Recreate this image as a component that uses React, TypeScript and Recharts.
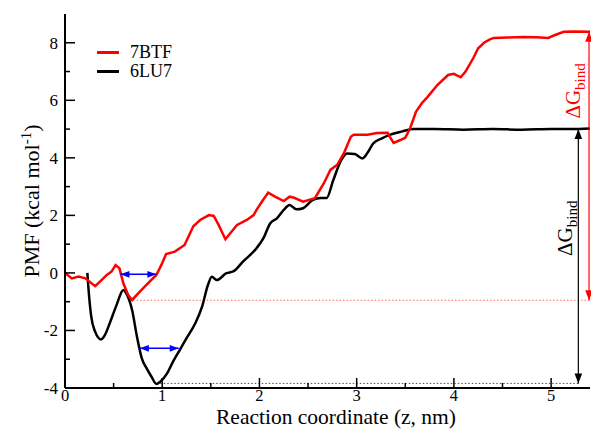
import React from "react";
import { LineChart, Line, XAxis, YAxis, ReferenceLine, Legend } from "recharts";

// 7BTF (red) PMF profile
const zRed = [
  0, 0.07, 0.14, 0.21, 0.31, 0.36, 0.43, 0.48, 0.52, 0.56, 0.6, 0.65, 0.69, 0.77, 0.86, 0.94, 0.99,
  1.04, 1.13, 1.23, 1.32, 1.39, 1.48, 1.53, 1.58, 1.65, 1.7, 1.77, 1.87, 1.94, 1.97, 2.03, 2.09,
  2.16, 2.25, 2.31, 2.35, 2.45, 2.57, 2.66, 2.73, 2.8, 2.87, 2.94, 2.97, 3.11, 3.21, 3.32, 3.34,
  3.38, 3.45, 3.5, 3.55, 3.61, 3.67, 3.73, 3.83, 3.94, 4.0, 4.07, 4.12, 4.2, 4.25, 4.31, 4.37, 4.41,
  4.55, 4.72, 4.85, 4.97, 5.04, 5.13, 5.25, 5.4,
];
const pmfRed = [
  0, -0.19, -0.13, -0.19, -0.46, -0.3, -0.07, 0.05, 0.27, 0.16, -0.36, -0.77, -0.94, -0.65, -0.34,
  -0.07, 0.27, 0.66, 0.74, 0.97, 1.62, 1.84, 2.01, 1.98, 1.67, 1.17, 1.38, 1.67, 1.84, 2.01, 2.19,
  2.5, 2.79, 2.65, 2.5, 2.65, 2.62, 2.48, 2.6, 3.1, 3.58, 3.76, 4.17, 4.73, 4.8, 4.8, 4.86, 4.87,
  4.74, 4.52, 4.62, 4.7, 5.03, 5.6, 5.9, 6.12, 6.53, 6.88, 6.92, 6.8, 7.0, 7.47, 7.81, 8.0, 8.12,
  8.17, 8.18, 8.2, 8.19, 8.17, 8.27, 8.38, 8.39, 8.38,
];

// 6LU7 (black) PMF profile
const zBlack = [
  0.23, 0.24, 0.27, 0.31, 0.37, 0.41, 0.46, 0.53, 0.6, 0.63, 0.69, 0.74, 0.79, 0.84, 0.89, 0.94,
  0.98, 1.05, 1.11, 1.18, 1.25, 1.34, 1.41, 1.47, 1.51, 1.56, 1.66, 1.73, 1.83, 1.97, 2.04, 2.11,
  2.18, 2.25, 2.31, 2.38, 2.45, 2.55, 2.63, 2.69, 2.76, 2.84, 2.9, 2.98, 3.06, 3.12, 3.17, 3.26,
  3.34, 3.47, 3.58, 3.8, 4.1, 4.4, 4.7, 5.0, 5.2, 5.4,
];
const pmfBlack = [
  0, -0.48, -1.52, -2.04, -2.31, -2.16, -1.75, -1.12, -0.59, -0.71, -1.29, -2.21, -2.97, -3.32,
  -3.61, -3.86, -3.78, -3.49, -3.09, -2.68, -2.27, -1.75, -1.17, -0.42, -0.13, -0.25, -0.01, 0.05,
  0.39, 0.86, 1.2, 1.72, 1.9, 2.19, 2.36, 2.21, 2.25, 2.54, 2.6, 2.6, 3.23, 3.91, 4.15, 4.13, 3.98,
  4.22, 4.5, 4.68, 4.8, 4.92, 5.0, 5.0, 4.98, 5.0, 4.98, 5.0, 5.0, 5.02,
];

const seriesNames = ["7BTF", "6LU7"];
const seriesColors = ["#ff0000", "#000000"];

const xTicks = [0, 0.5, 1, 1.5, 2, 2.5, 3, 3.5, 4, 4.5, 5];
const yTicks = [-4, -3, -2, -1, 0, 1, 2, 3, 4, 5, 6, 7, 8];

// annotations, in data coordinates
const redFloor = [{ x: 0.7, y: -0.95 }, { x: 5.4, y: -0.95 }];
const blackFloor = [{ x: 0.98, y: -3.84 }, { x: 5.28, y: -3.84 }];
const redBind = [{ x: 5.39, y: 8.38 }, { x: 5.39, y: -0.95 }];
const blackBind = [{ x: 5.28, y: 5.0 }, { x: 5.28, y: -3.84 }];
const blueTop = [{ x: 0.57, y: -0.05 }, { x: 0.94, y: -0.05 }];
const blueLow = [{ x: 0.77, y: -2.62 }, { x: 1.17, y: -2.62 }];

const redData = zRed.map((z, i) => ({ z, pmf: pmfRed[i] }));
const blackData = zBlack.map((z, i) => ({ z, pmf: pmfBlack[i] }));

const FONT = '"Liberation Serif", "Times New Roman", serif';
const isMajorX = (v: number) => Math.abs(v - Math.round(v)) < 1e-6;
const isMajorY = (v: number) => v % 2 === 0;

function BottomTick({ x, y, payload }: any) {
  const major = isMajorX(payload.value);
  return (
    <g>
      <line x1={x} y1={y} x2={x} y2={y - (major ? 10 : 5)} stroke="#000" strokeWidth={1.5} />
      {major && (
        <text x={x} y={y + 13} textAnchor="middle" fontSize={16.5} fontFamily={FONT} fill="#000">
          {payload.value}
        </text>
      )}
    </g>
  );
}

function TopTick({ x, y, payload }: any) {
  const major = isMajorX(payload.value);
  return <line x1={x} y1={y} x2={x} y2={y + (major ? 10 : 5)} stroke="#000" strokeWidth={1.5} />;
}

function LeftTick({ x, y, payload }: any) {
  const major = isMajorY(payload.value);
  return (
    <g>
      <line x1={x} y1={y} x2={x + (major ? 10 : 5)} y2={y} stroke="#000" strokeWidth={1.5} />
      {major && (
        <text x={x - 7} y={y + 6} textAnchor="end" fontSize={17} fontFamily={FONT} fill="#000">
          {payload.value}
        </text>
      )}
    </g>
  );
}

function RightTick({ x, y, payload }: any) {
  const major = isMajorY(payload.value);
  return <line x1={x} y1={y} x2={x - (major ? 10 : 5)} y2={y} stroke="#000" strokeWidth={1.5} />;
}

function makeArrow(color: string, width: number, head: number, label?: { t: number; dx: number }) {
  return (p: any) => {
    const { x1, y1, x2, y2 } = p;
    const dx = x2 - x1;
    const dy = y2 - y1;
    const len = Math.hypot(dx, dy) || 1;
    const ux = dx / len;
    const uy = dy / len;
    const hw = head * 0.38;
    const h1 = `${x1},${y1} ${x1 + ux * head - uy * hw},${y1 + uy * head + ux * hw} ${x1 + ux * head + uy * hw},${y1 + uy * head - ux * hw}`;
    const h2 = `${x2},${y2} ${x2 - ux * head - uy * hw},${y2 - uy * head + ux * hw} ${x2 - ux * head + uy * hw},${y2 - uy * head - ux * hw}`;
    let text = null;
    if (label) {
      const lx = x1 + label.dx;
      const ly = y1 + dy * label.t;
      text = (
        <text
          x={lx}
          y={ly}
          transform={`rotate(-90 ${lx} ${ly})`}
          textAnchor="middle"
          fontSize={21}
          fontFamily={FONT}
          fill={color}
        >
          ΔG
          <tspan dy={5} fontSize={15}>bind</tspan>
        </text>
      );
    }
    return (
      <g>
        <line x1={x1} y1={y1} x2={x2} y2={y2} stroke={color} strokeWidth={width} />
        <polygon points={h1} fill={color} />
        <polygon points={h2} fill={color} />
        {text}
      </g>
    );
  };
}

function XTitle() {
  return (
    <text x={336} y={424} textAnchor="middle" fontSize={21.5} fontFamily={FONT} fill="#000">
      Reaction coordinate (z, nm)
    </text>
  );
}

function YTitle() {
  const cx = 39;
  const cy = 201;
  return (
    <text
      x={cx}
      y={cy}
      transform={`rotate(-90 ${cx} ${cy})`}
      textAnchor="middle"
      fontSize={22}
      fontFamily={FONT}
      fill="#000"
    >
      PMF (kcal mol
      <tspan dy={-8} fontSize={15}>-1</tspan>
      <tspan dy={8}>)</tspan>
    </text>
  );
}

function LegendBox() {
  return (
    <div style={{ fontFamily: FONT, fontSize: 18, color: "#000" }}>
      {seriesNames.map((n, i) => (
        <div key={n} style={{ display: "flex", alignItems: "center", height: 19 }}>
          <svg width={22} height={3} style={{ display: "block" }}>
            <line x1={0} y1={1.5} x2={22} y2={1.5} stroke={seriesColors[i]} strokeWidth={3} />
          </svg>
          <span style={{ marginLeft: 11, lineHeight: "19px" }}>{n}</span>
        </div>
      ))}
    </div>
  );
}

export default function App() {
  return (
    <div style={{ position: "absolute", left: 0, top: 0, background: "#fff" }}>
      <LineChart width={591} height={429} margin={{ top: 14, right: 1, left: 0, bottom: 0 }}>
        <XAxis
          dataKey="z"
          type="number"
          domain={[0, 5.4]}
          allowDataOverflow
          ticks={xTicks}
          interval={0}
          height={41}
          tickSize={0}
          tickMargin={0}
          tick={(p: any) => <BottomTick {...p} />}
          axisLine={{ stroke: "#000", strokeWidth: 2 }}
        />
        <XAxis
          xAxisId="top"
          orientation="top"
          dataKey="z"
          type="number"
          domain={[0, 5.4]}
          allowDataOverflow
          ticks={xTicks}
          interval={0}
          height={0}
          tickSize={0}
          tickMargin={0}
          tick={(p: any) => <TopTick {...p} />}
          axisLine={{ stroke: "#000", strokeWidth: 2 }}
        />
        <YAxis
          type="number"
          domain={[-4, 9]}
          allowDataOverflow
          ticks={yTicks}
          interval={0}
          width={65}
          tickSize={0}
          tickMargin={0}
          tick={(p: any) => <LeftTick {...p} />}
          axisLine={{ stroke: "#000", strokeWidth: 2 }}
        />
        <YAxis
          yAxisId="right"
          orientation="right"
          type="number"
          domain={[-4, 9]}
          allowDataOverflow
          ticks={yTicks}
          interval={0}
          width={0}
          tickSize={0}
          tickMargin={0}
          tick={(p: any) => <RightTick {...p} />}
          axisLine={{ stroke: "#000", strokeWidth: 2 }}
        />
        <Legend
          layout="vertical"
          align="center"
          verticalAlign="middle"
          wrapperStyle={{ left: 97, top: 43, width: 100, height: 40 }}
          content={() => <LegendBox />}
        />
        <ReferenceLine
          segment={redFloor}
          stroke="#ff0000"
          strokeOpacity={0.6}
          strokeWidth={1}
          strokeDasharray="1.5 2"
        />
        <ReferenceLine
          segment={blackFloor}
          stroke="#000"
          strokeOpacity={0.7}
          strokeWidth={1}
          strokeDasharray="1.5 2"
        />
        <Line
          data={blackData}
          dataKey="pmf"
          name={seriesNames[1]}
          type="monotone"
          stroke={seriesColors[1]}
          strokeWidth={2.5}
          dot={false}
          activeDot={false}
          isAnimationActive={false}
        />
        <Line
          data={redData}
          dataKey="pmf"
          name={seriesNames[0]}
          type="linear"
          stroke={seriesColors[0]}
          strokeWidth={2.5}
          dot={false}
          activeDot={false}
          isAnimationActive={false}
        />
        <ReferenceLine segment={blueTop} shape={makeArrow("#0000ff", 1.5, 9)} />
        <ReferenceLine segment={blueLow} shape={makeArrow("#0000ff", 1.5, 9)} />
        <ReferenceLine segment={blackBind} shape={makeArrow("#000000", 1.2, 10, { t: 0.39, dx: -6 })} />
        <ReferenceLine segment={redBind} shape={makeArrow("#ff0000", 1.2, 10, { t: 0.22, dx: -9 })} />
        <XTitle />
        <YTitle />
      </LineChart>
    </div>
  );
}
